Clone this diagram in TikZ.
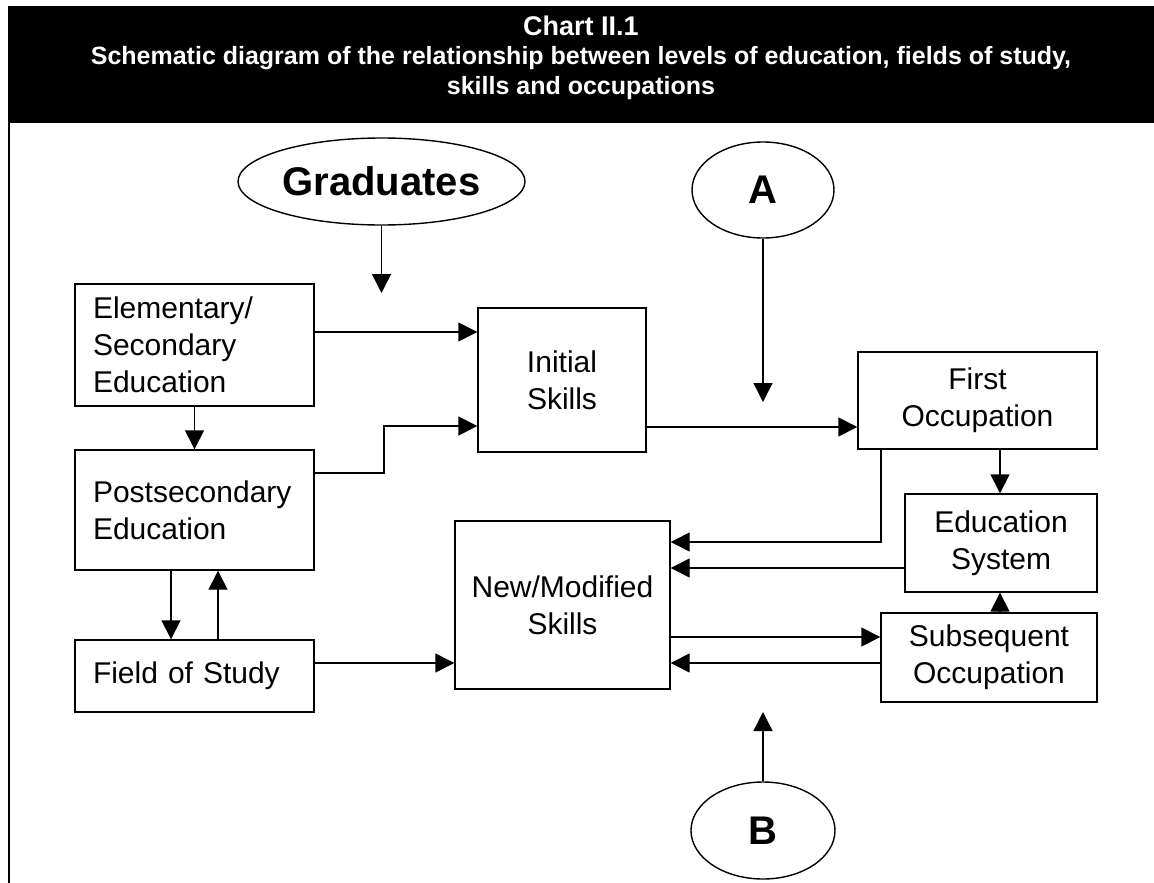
\documentclass[tikz,border=0pt]{standalone}
\usepackage{fontspec}
\setmainfont{Liberation Sans}
\usetikzlibrary{arrows.meta,shapes.geometric}
\begin{document}
\begin{tikzpicture}[x=1pt,y=-1pt,
  box/.style={draw,line width=1.4pt,inner sep=0pt,font=\fontsize{30}{37}\selectfont},
  lbox/.style={box,align=left,text width=#1},
  cbox/.style={box,align=center},
  oval/.style={draw,line width=1.4pt,ellipse,inner sep=0pt,font=\fontsize{40}{44}\selectfont\bfseries},
  arr/.style={line width=1.4pt,-{Triangle[length=19pt,width=19pt]}},
  titletext/.style={text=white,font=\bfseries,anchor=base,inner sep=0pt}]
\path[use as bounding box] (0,0) rectangle (1154,883);

% heading band and left frame rule
\fill[black] (8,6) rectangle (1154,123);
\draw[line width=2.2pt] (9,123) -- (9,883);
\node[titletext,font=\fontsize{27}{30}\selectfont\bfseries] (title) at (581,36) {Chart II.1};
\node[titletext,font=\fontsize{25}{29}\selectfont\bfseries] (sub1) at (581,65) {Schematic diagram of the relationship between levels of education, fields of study,};
\node[titletext,font=\fontsize{25}{29}\selectfont\bfseries] (sub2) at (581,94) {skills and occupations};

% ovals
\node[oval,minimum width=287pt,minimum height=87pt] (grad) at (381.5,181.5) {Graduates};
\node[oval,minimum width=142pt,minimum height=96pt] (A) at (763,190) {A};
\node[oval,minimum width=144pt,minimum height=97pt] (B) at (763,830.5) {B};

% boxes
\node[lbox=203pt,minimum width=239pt,minimum height=122pt] (elem) at (194.5,345) {Elementary/\\Secondary\\Education};
\node[lbox=203pt,minimum width=239pt,minimum height=120pt] (post) at (194.5,510) {Postsecondary\\Education};
\node[lbox=203pt,minimum width=239pt,minimum height=72pt] (field) at (194.5,676) {Field of Study};
\node[cbox,minimum width=168pt,minimum height=144pt] (init) at (562,380) {Initial\\Skills};
\node[cbox,minimum width=215pt,minimum height=168pt] (newm) at (562.5,605) {New/Modified\\Skills};
\node[cbox,minimum width=239pt,minimum height=97pt] (first) at (977.5,400.5) {First\\Occupation};
\node[cbox,minimum width=192pt,minimum height=98pt] (edsys) at (1001,543) {Education\\System};
\node[cbox,minimum width=216pt,minimum height=89pt] (subs) at (989,657.5) {Subsequent\\Occupation};

% free arrow ends
\coordinate (gtip) at (381.5,293);
\coordinate (atip) at (763,402);
\coordinate (btip) at (763,712);

% connectors
\draw[arr] (grad) -- (gtip);
\draw[arr] (A) -- (atip);
\draw[arr] (B) -- (btip);
\draw[arr] (elem.east |- 0,332) -- (init.west |- 0,332);
\draw[arr] (post.east |- 0,473) -- (384,473) -- (384,426) -- (init.west |- 0,426);
\draw[arr] (elem.south) -- (post.north);
\draw[arr] (post.south -| 171,0) -- (field.north -| 171,0);
\draw[arr] (field.north -| 218,0) -- (post.south -| 218,0);
\draw[arr] (field.east |- 0,663) -- (newm.west |- 0,663);
\draw[arr] (init.east |- 0,427) -- (first.west |- 0,427);
\draw[arr] (first.south -| 1000,0) -- (edsys.north -| 1000,0);
\draw[arr] (first.south -| 881,0) -- (881,542) -- (newm.east |- 0,542);
\draw[arr] (edsys.west |- 0,568) -- (newm.east |- 0,568);
\draw[arr] (subs.north -| 1000,0) -- (edsys.south -| 1000,0);
\draw[arr] (newm.east |- 0,637) -- (subs.west |- 0,637);
\draw[arr] (subs.west |- 0,663) -- (newm.east |- 0,663);
\end{tikzpicture}
\end{document}
